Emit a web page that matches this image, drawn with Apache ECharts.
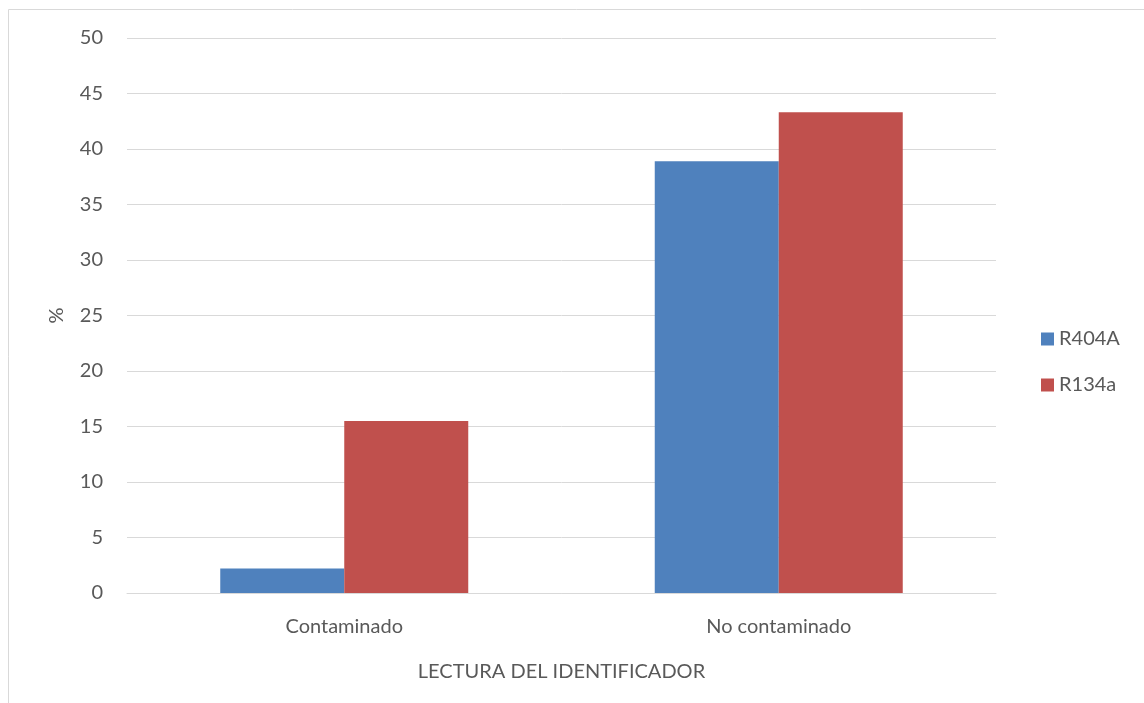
<!DOCTYPE html>
<html>
<head>
<meta charset="utf-8">
<script src="https://cdn.jsdelivr.net/npm/echarts@6/dist/echarts.min.js"></script>
<style>
  html, body { margin: 0; padding: 0; background: #fff; }
  #chart { width: 1144px; height: 703px; }
</style>
</head>
<body>
<div id="chart"></div>
<script>
const categories = ['Contaminado', 'No contaminado'];
const seriesNames = ['R404A', 'R134a'];
const r404aValues = [2.2, 38.9];
const r134aValues = [15.5, 43.3];

const textColor = '#595959';
const fontFamily = 'Lato, "Open Sans", sans-serif';
const fontSize = 20;

const chart = echarts.init(document.getElementById('chart'));
chart.setOption({
  animation: false,
  textStyle: { fontFamily: fontFamily },
  graphic: [{
    type: 'rect',
    shape: { x: 8.5, y: 9.5, width: 1150, height: 710 },
    style: { fill: 'none', stroke: '#d9d9d9', lineWidth: 1 },
    silent: true
  }],
  grid: { left: 127, right: 148, top: 38, bottom: 110 },
  legend: {
    orient: 'vertical',
    left: 1036,
    top: 324,
    itemWidth: 13,
    itemHeight: 13,
    itemGap: 26,
    icon: 'rect',
    data: seriesNames,
    textStyle: { color: textColor, fontSize: fontSize, fontFamily: fontFamily }
  },
  xAxis: {
    type: 'category',
    data: categories,
    name: 'LECTURA DEL IDENTIFICADOR',
    nameLocation: 'middle',
    nameGap: 69,
    nameTextStyle: { color: textColor, fontSize: fontSize },
    axisLine: { lineStyle: { color: '#d9d9d9' } },
    axisTick: { show: false },
    axisLabel: { color: textColor, fontSize: fontSize, margin: 24 }
  },
  yAxis: {
    type: 'value',
    min: 0,
    max: 50,
    interval: 5,
    name: '%',
    nameLocation: 'middle',
    nameGap: 60,
    nameRotate: 90,
    nameTextStyle: { color: textColor, fontSize: fontSize },
    axisLine: { show: false },
    axisTick: { show: false },
    axisLabel: { color: textColor, fontSize: fontSize, margin: 24 },
    splitLine: { lineStyle: { color: '#d9d9d9', width: 1 } }
  },
  series: [
    {
      name: seriesNames[0],
      type: 'bar',
      data: r404aValues,
      barWidth: 124,
      barGap: '0%',
      itemStyle: { color: '#4F81BD' }
    },
    {
      name: seriesNames[1],
      type: 'bar',
      data: r134aValues,
      barWidth: 124,
      barGap: '0%',
      itemStyle: { color: '#C0504D' }
    }
  ]
});
</script>
</body>
</html>
